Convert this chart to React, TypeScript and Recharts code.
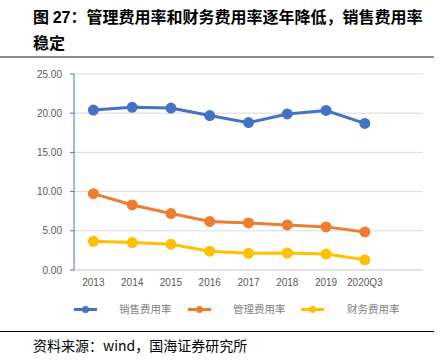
import React from 'react';
import { LineChart, Line, XAxis, YAxis, CartesianGrid } from 'recharts';

const categories = ['2013', '2014', '2015', '2016', '2017', '2018', '2019', '2020Q3', ''];
const salesRate = [20.4, 20.75, 20.66, 19.7, 18.8, 19.9, 20.35, 18.7, null];
const adminRate = [9.74, 8.3, 7.2, 6.2, 6.0, 5.75, 5.5, 4.85, null];
const financeRate = [3.66, 3.5, 3.28, 2.4, 2.13, 2.17, 2.04, 1.3, null];
const yTicks = [0, 5, 10, 15, 20, 25];

const seriesNames = ['销售费用率', '管理费用率', '财务费用率'];
const seriesColors = ['#4472C4', '#ED7D31', '#FFC000'];

const data = categories.map((c, i) => ({
  name: c,
  sales: salesRate[i],
  admin: adminRate[i],
  finance: financeRate[i],
}));

const cjk = '"Noto Sans CJK SC", "Noto Sans", sans-serif';
const num = '"Liberation Sans", "Noto Sans", sans-serif';

const legendPos = [
  { mx: 74, tx: 119 },
  { mx: 188, tx: 233 },
  { mx: 301, tx: 347 },
];

export default function App() {
  return (
    <div style={{ position: 'absolute', left: 0, top: 0, width: 442, height: 364, background: '#fff', overflow: 'hidden' }}>
      <div style={{ position: 'absolute', left: 33, top: 4, fontFamily: cjk, fontWeight: 700, fontSize: 16, letterSpacing: 0, lineHeight: '25px', color: '#000', whiteSpace: 'nowrap' }}>
        <div>图 <span style={{ fontFamily: num }}>27</span>：管理费用率和财务费用率逐年降低，销售费用率</div>
        <div>稳定</div>
      </div>
      <div style={{ position: 'absolute', left: 0, top: 56, width: 434, height: 2, background: '#8c8c8c' }} />
      <div style={{ position: 'absolute', left: 0, top: 0 }}>
        <LineChart width={442} height={364} data={data} margin={{ top: 74, right: 19, left: 0, bottom: 74 }}>
          <CartesianGrid horizontal vertical={false} stroke="#d9d9d9" />
          <XAxis
            dataKey="name"
            scale="band"
            height={20}
            axisLine={{ stroke: '#d9d9d9' }}
            tickLine={false}
            tickSize={0}
            tickMargin={9}
            interval={0}
            tick={{ fill: '#595959', fontSize: 10, fontFamily: num }}
          />
          <YAxis
            width={74}
            domain={[0, 25]}
            ticks={yTicks}
            tickFormatter={(v: number) => v.toFixed(2)}
            axisLine={{ stroke: '#4472C4' }}
            tickLine={{ stroke: '#4472C4' }}
            tickSize={4}
            tickMargin={8}
            tick={{ fill: '#595959', fontSize: 10, fontFamily: num }}
          />
          <Line dataKey="sales" stroke={seriesColors[0]} strokeWidth={3} dot={{ r: 4, fill: seriesColors[0], stroke: seriesColors[0] }} isAnimationActive={false} />
          <Line dataKey="admin" stroke={seriesColors[1]} strokeWidth={3} dot={{ r: 4, fill: seriesColors[1], stroke: seriesColors[1] }} isAnimationActive={false} />
          <Line dataKey="finance" stroke={seriesColors[2]} strokeWidth={3} dot={{ r: 4, fill: seriesColors[2], stroke: seriesColors[2] }} isAnimationActive={false} />
        </LineChart>
      </div>
      {seriesNames.map((n, i) => (
        <React.Fragment key={n}>
          <div style={{ position: 'absolute', left: legendPos[i].mx, top: 308, width: 23, height: 3, background: seriesColors[i] }} />
          <div style={{ position: 'absolute', left: legendPos[i].mx + 8, top: 306, width: 7, height: 7, borderRadius: 4, background: seriesColors[i] }} />
          <div style={{ position: 'absolute', left: legendPos[i].tx, top: 301, fontFamily: cjk, fontSize: 10.5, lineHeight: '16px', color: '#7f7f7f', whiteSpace: 'nowrap' }}>{n}</div>
        </React.Fragment>
      ))}
      <div style={{ position: 'absolute', left: 0, top: 331, width: 434, height: 1, background: '#000' }} />
      <div style={{ position: 'absolute', left: 33, top: 336, fontFamily: cjk, fontSize: 14, lineHeight: '18px', color: '#000', whiteSpace: 'nowrap' }}>
        资料来源：wind，国海证券研究所
      </div>
    </div>
  );
}
